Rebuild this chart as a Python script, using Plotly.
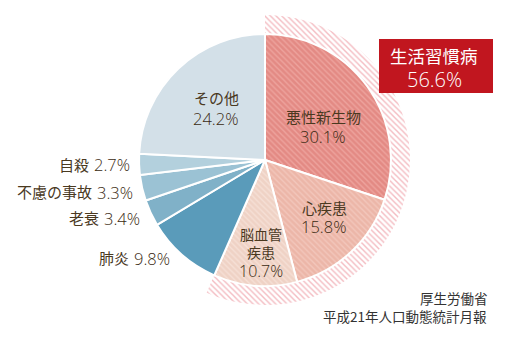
import plotly.graph_objects as go

# Causes of death share (%), clockwise from 12 o'clock
causes = ["悪性新生物", "心疾患", "脳血管疾患", "肺炎", "老衰", "不慮の事故", "自殺", "その他"]
shares = [30.1, 15.8, 10.7, 9.8, 3.4, 3.3, 2.7, 24.2]
# name lines as drawn inside the slices
name_lines = [["悪性新生物"], ["心疾患"], ["脳血管", "疾患"], ["肺炎"], ["老衰"],
              ["不慮の事故"], ["自殺"], ["その他"]]
fill_colors = ["#e38a84", "#ecb6a8", "#efd2c5", "#5a9bba", "#80b1c8", "#9bc2d4", "#b3d0dd", "#d3e0e8"]
stripe_colors = ["#eea49e", "#f3c7bc", "#f6e0d6", None, None, None, None, None]
lifestyle = ["悪性新生物", "心疾患", "脳血管疾患"]
lifestyle_title = "生活習慣病"
source_lines = ["厚生労働省", "平成21年人口動態統計月報"]

lifestyle_total = round(sum(s for c, s in zip(causes, shares) if c in lifestyle), 1)

W, H = 510, 342
cx, cy = 265, 160          # pie centre in pixels (from top-left)
r_in, r_out = 126, 145     # pie radius and outer band radius

jp_font = "Noto Sans CJK JP, Noto Sans, sans-serif"
num_font = "Open Sans, Noto Sans, sans-serif"
ink = "#4a391f"
num_ink = "#3a2a12"


def dom(r):
    return dict(x=[(cx - r) / W, (cx + r) / W],
                y=[(H - cy - r) / H, (H - cy + r) / H])


def px_note(x, y, text, anchor="center", size=15, color=ink, family=jp_font, weight=400):
    fig.add_annotation(x=x / W, y=1 - y / H, xref="paper", yref="paper",
                       text=text, showarrow=False, xanchor=anchor, yanchor="middle",
                       font=dict(family=family, size=size, color=color, weight=weight))


fig = go.Figure()

# hatched band around the lifestyle-disease slices
fig.add_trace(go.Pie(
    values=[lifestyle_total, round(100 - lifestyle_total, 1)],
    sort=False, direction="clockwise", rotation=0,
    hole=r_in / r_out, domain=dom(r_out),
    marker=dict(colors=["#ffffff", "rgba(0,0,0,0)"],
                line=dict(width=0),
                pattern=dict(shape=["\\", ""], fgcolor=["#f4bcc2", "rgba(0,0,0,0)"],
                             bgcolor=["#ffffff", "rgba(0,0,0,0)"],
                             size=4, solidity=0.35, fillmode="replace")),
    textinfo="none", hoverinfo="skip", showlegend=False,
))

# main pie
shapes = ["\\" if c in lifestyle else "" for c in causes]
fig.add_trace(go.Pie(
    labels=causes, values=shares,
    sort=False, direction="clockwise", rotation=0,
    domain=dom(r_in),
    marker=dict(colors=fill_colors,
                line=dict(color="#ffffff", width=2),
                pattern=dict(shape=shapes,
                             fgcolor=[s if s else c for s, c in zip(stripe_colors, fill_colors)],
                             bgcolor=fill_colors,
                             size=4, solidity=0.35, fillmode="replace")),
    textinfo="none", hoverinfo="skip", showlegend=False,
))

# inside labels: (centre x, first line y, line step, font size) in pixels
inside_pos = {
    "悪性新生物": (323, 117, 19, 15),
    "心疾患": (324, 207, 18.5, 15),
    "脳血管疾患": (261, 234, 18, 14),
    "その他": (216, 98, 20, 15),
}
# outside labels: right edge x and y of the value; the name sits to its left
outside_pos = {
    "肺炎": (172, 257),
    "老衰": (142, 217),
    "不慮の事故": (135, 191),
    "自殺": (132, 164),
}
value_w = 37   # pixel width reserved for an outside value such as "9.8%"
num_size = 16.5

for c, lines, v in zip(causes, name_lines, shares):
    if c in inside_pos:
        x, y0, step, fs = inside_pos[c]
        for i, ln in enumerate(lines):
            px_note(x, y0 + i * step, ln, size=fs)
        px_note(x, y0 + len(lines) * step + 0.5, f"{v}%", family=num_font,
                size=num_size if fs == 15 else 16, weight=300, color=num_ink)
    else:
        x, y = outside_pos[c]
        px_note(x, y + 1, f"{v}%", anchor="right", family=num_font, size=num_size,
                weight=300, color=num_ink)
        px_note(x - value_w - 4, y, lines[0], anchor="right")

# red callout box
fig.add_shape(type="rect", xref="paper", yref="paper",
              x0=379 / W, x1=493 / W, y0=1 - 93 / H, y1=1 - 39 / H,
              fillcolor="#c1161f", line=dict(width=0), layer="above")
px_note(434, 55, lifestyle_title, size=17.5, color="#ffffff")
px_note(434, 79, f"{lifestyle_total}%", size=20, color="#ffffff", family=num_font, weight=300)

# source note
px_note(490, 298, source_lines[0], anchor="right", size=13.5, color="#333333")
px_note(489, 316, source_lines[1], anchor="right", size=13.5, color="#333333")

fig.update_layout(width=W, height=H, margin=dict(l=0, r=0, t=0, b=0),
                  paper_bgcolor="#ffffff", plot_bgcolor="#ffffff")

fig.write_html("out.html")
